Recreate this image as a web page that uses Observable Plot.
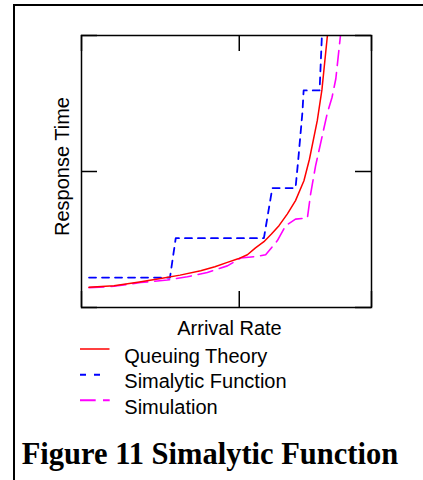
<!DOCTYPE html>
<html>
<head>
<meta charset="utf-8">
<script src="https://cdn.jsdelivr.net/npm/d3@7"></script>
<script src="https://cdn.jsdelivr.net/npm/@observablehq/plot@0.6"></script>
<style>
  html, body { margin: 0; padding: 0; background: #fff; }
  #wrap { position: relative; width: 423px; height: 480px; overflow: hidden; }
  #wrap svg { position: absolute; left: 0; top: 0; }
</style>
</head>
<body>
<div id="wrap"></div>
<script>
// ---- data (arbitrary units) ----
const queuingX = [2.6, 11.2, 20, 27.3, 34, 41.1, 46, 50.3, 54, 57.2, 60, 62.9, 65.5, 68.1, 71, 73.8, 76.7, 78.6, 81.3, 82.9, 84.8];
const queuingY = [7.4, 8.0, 9.4, 10.7, 11.9, 13.5, 15.0, 16.6, 17.9, 19.4, 21.9, 24.2, 27.0, 30.1, 34.4, 39.3, 46.6, 54.5, 68.7, 80, 100];

const simalyticX = [2.6, 30.5, 32.5, 62.9, 65.8, 73.8, 74.8, 76.2, 76.6, 82.1, 82.9];
const simalyticY = [11.0, 11.0, 25.5, 25.5, 43.9, 43.9, 55, 72, 79.8, 79.8, 100];

const simulationX = [2.6, 11.2, 20.4, 29.6, 36.5, 43.4, 50.3, 54.9, 60.0, 63.5, 67.5, 70.4, 73.8, 77.9, 79.0, 80.7, 84.7, 86.4, 87.7, 89.3];
const simulationY = [7.3, 7.8, 9.2, 10.1, 11.3, 12.9, 15.3, 18.2, 18.7, 19.4, 24.5, 30.1, 32.5, 32.9, 41.7, 52, 71.2, 77.3, 84.1, 100];

const xTicks = [0, 54.4, 100];
const yTicks = [0, 50, 100];
const xLabel = "Arrival Rate";
const yLabel = "Response Time";
const seriesNames = ["Queuing Theory", "Simalytic Function", "Simulation"];
const title = "Figure 11 Simalytic Function";

const queuing = queuingX.map((x, i) => ({x, y: queuingY[i]}));
const simalytic = simalyticX.map((x, i) => ({x, y: simalyticY[i]}));
const simulation = simulationX.map((x, i) => ({x, y: simulationY[i]}));

const W = 423, H = 345;
const mL = 81, mR = 52, mT = 35, mB = 38;
const fw = W - mL - mR, fh = H - mT - mB;
const tickLen = 16;
const font = "'Liberation Sans', Arial, sans-serif";

// ---- overlay: border, legend, title ----
const ns = "http://www.w3.org/2000/svg";
const wrap = document.getElementById("wrap");
const ov = document.createElementNS(ns, "svg");
ov.setAttribute("width", 423); ov.setAttribute("height", 480);
const styles = [
  {stroke: "#ff0000", dash: null, width: 1.5, x2: 109.5},
  {stroke: "#0000ff", dash: "6,8", width: 2, x2: 101},
  {stroke: "#ff00ff", dash: "15.7,7.3", width: 2, x2: 109.7}
];
let html = `<rect x="14" y="5" width="600" height="700" fill="none" stroke="#000" stroke-width="2"/>`;
const lineYs = [349, 374.7, 400.3];
const textYs = [363.3, 388, 413.5];
seriesNames.forEach((name, i) => {
  const s = styles[i];
  html += `<line x1="80" x2="${s.x2}" y1="${lineYs[i]}" y2="${lineYs[i]}" stroke="${s.stroke}" stroke-width="${s.width}" ${s.dash ? `stroke-dasharray="${s.dash}"` : ""}/>`;
  html += `<text x="124.3" y="${textYs[i]}" font-family="${font.replace(/'/g, "&quot;")}" font-size="20" fill="#000">${name}</text>`;
});
html += `<text x="21.7" y="464" font-family="'Liberation Serif', 'Times New Roman', serif" font-weight="bold" font-size="30.5" fill="#000">${title}</text>`;
ov.innerHTML = html;
wrap.appendChild(ov);

// ---- chart ----
const chart = Plot.plot({
  width: W, height: H,
  marginLeft: mL, marginRight: mR, marginTop: mT, marginBottom: mB,
  style: {background: "transparent", overflow: "visible", fontFamily: font},
  x: {domain: [0, 100], axis: null},
  y: {domain: [0, 100], axis: null},
  marks: [
    Plot.line(simulation, {x: "x", y: "y", stroke: "#ff00ff", strokeWidth: 1.6, strokeDasharray: "15,7", clip: true}),
    Plot.line(simalytic, {x: "x", y: "y", stroke: "#0000ff", strokeWidth: 1.8, strokeDasharray: "7,6", clip: true}),
    Plot.line(queuing, {x: "x", y: "y", stroke: "#ff0000", strokeWidth: 1.5, clip: true}),
    Plot.tickX(xTicks, {x: d => d, stroke: "#000", strokeWidth: 1.5, insetTop: fh - tickLen}),
    Plot.tickX(xTicks, {x: d => d, stroke: "#000", strokeWidth: 1.5, insetBottom: fh - tickLen}),
    Plot.tickY(yTicks, {y: d => d, stroke: "#000", strokeWidth: 1.5, insetRight: fw - tickLen}),
    Plot.tickY(yTicks, {y: d => d, stroke: "#000", strokeWidth: 1.5, insetLeft: fw - tickLen}),
    Plot.frame({stroke: "#000", strokeWidth: 1.5}),
    Plot.text([xLabel], {frameAnchor: "bottom", text: d => d, fontSize: 20, fill: "#000", textAnchor: "middle", lineAnchor: "middle", dy: 20.9, dx: 3}),
    Plot.text([yLabel], {frameAnchor: "left", text: d => d, fontSize: 20, fill: "#000", textAnchor: "middle", rotate: -90, lineAnchor: "middle", dx: -19, dy: -5})
  ]
});
wrap.appendChild(chart);
</script>
</body>
</html>
